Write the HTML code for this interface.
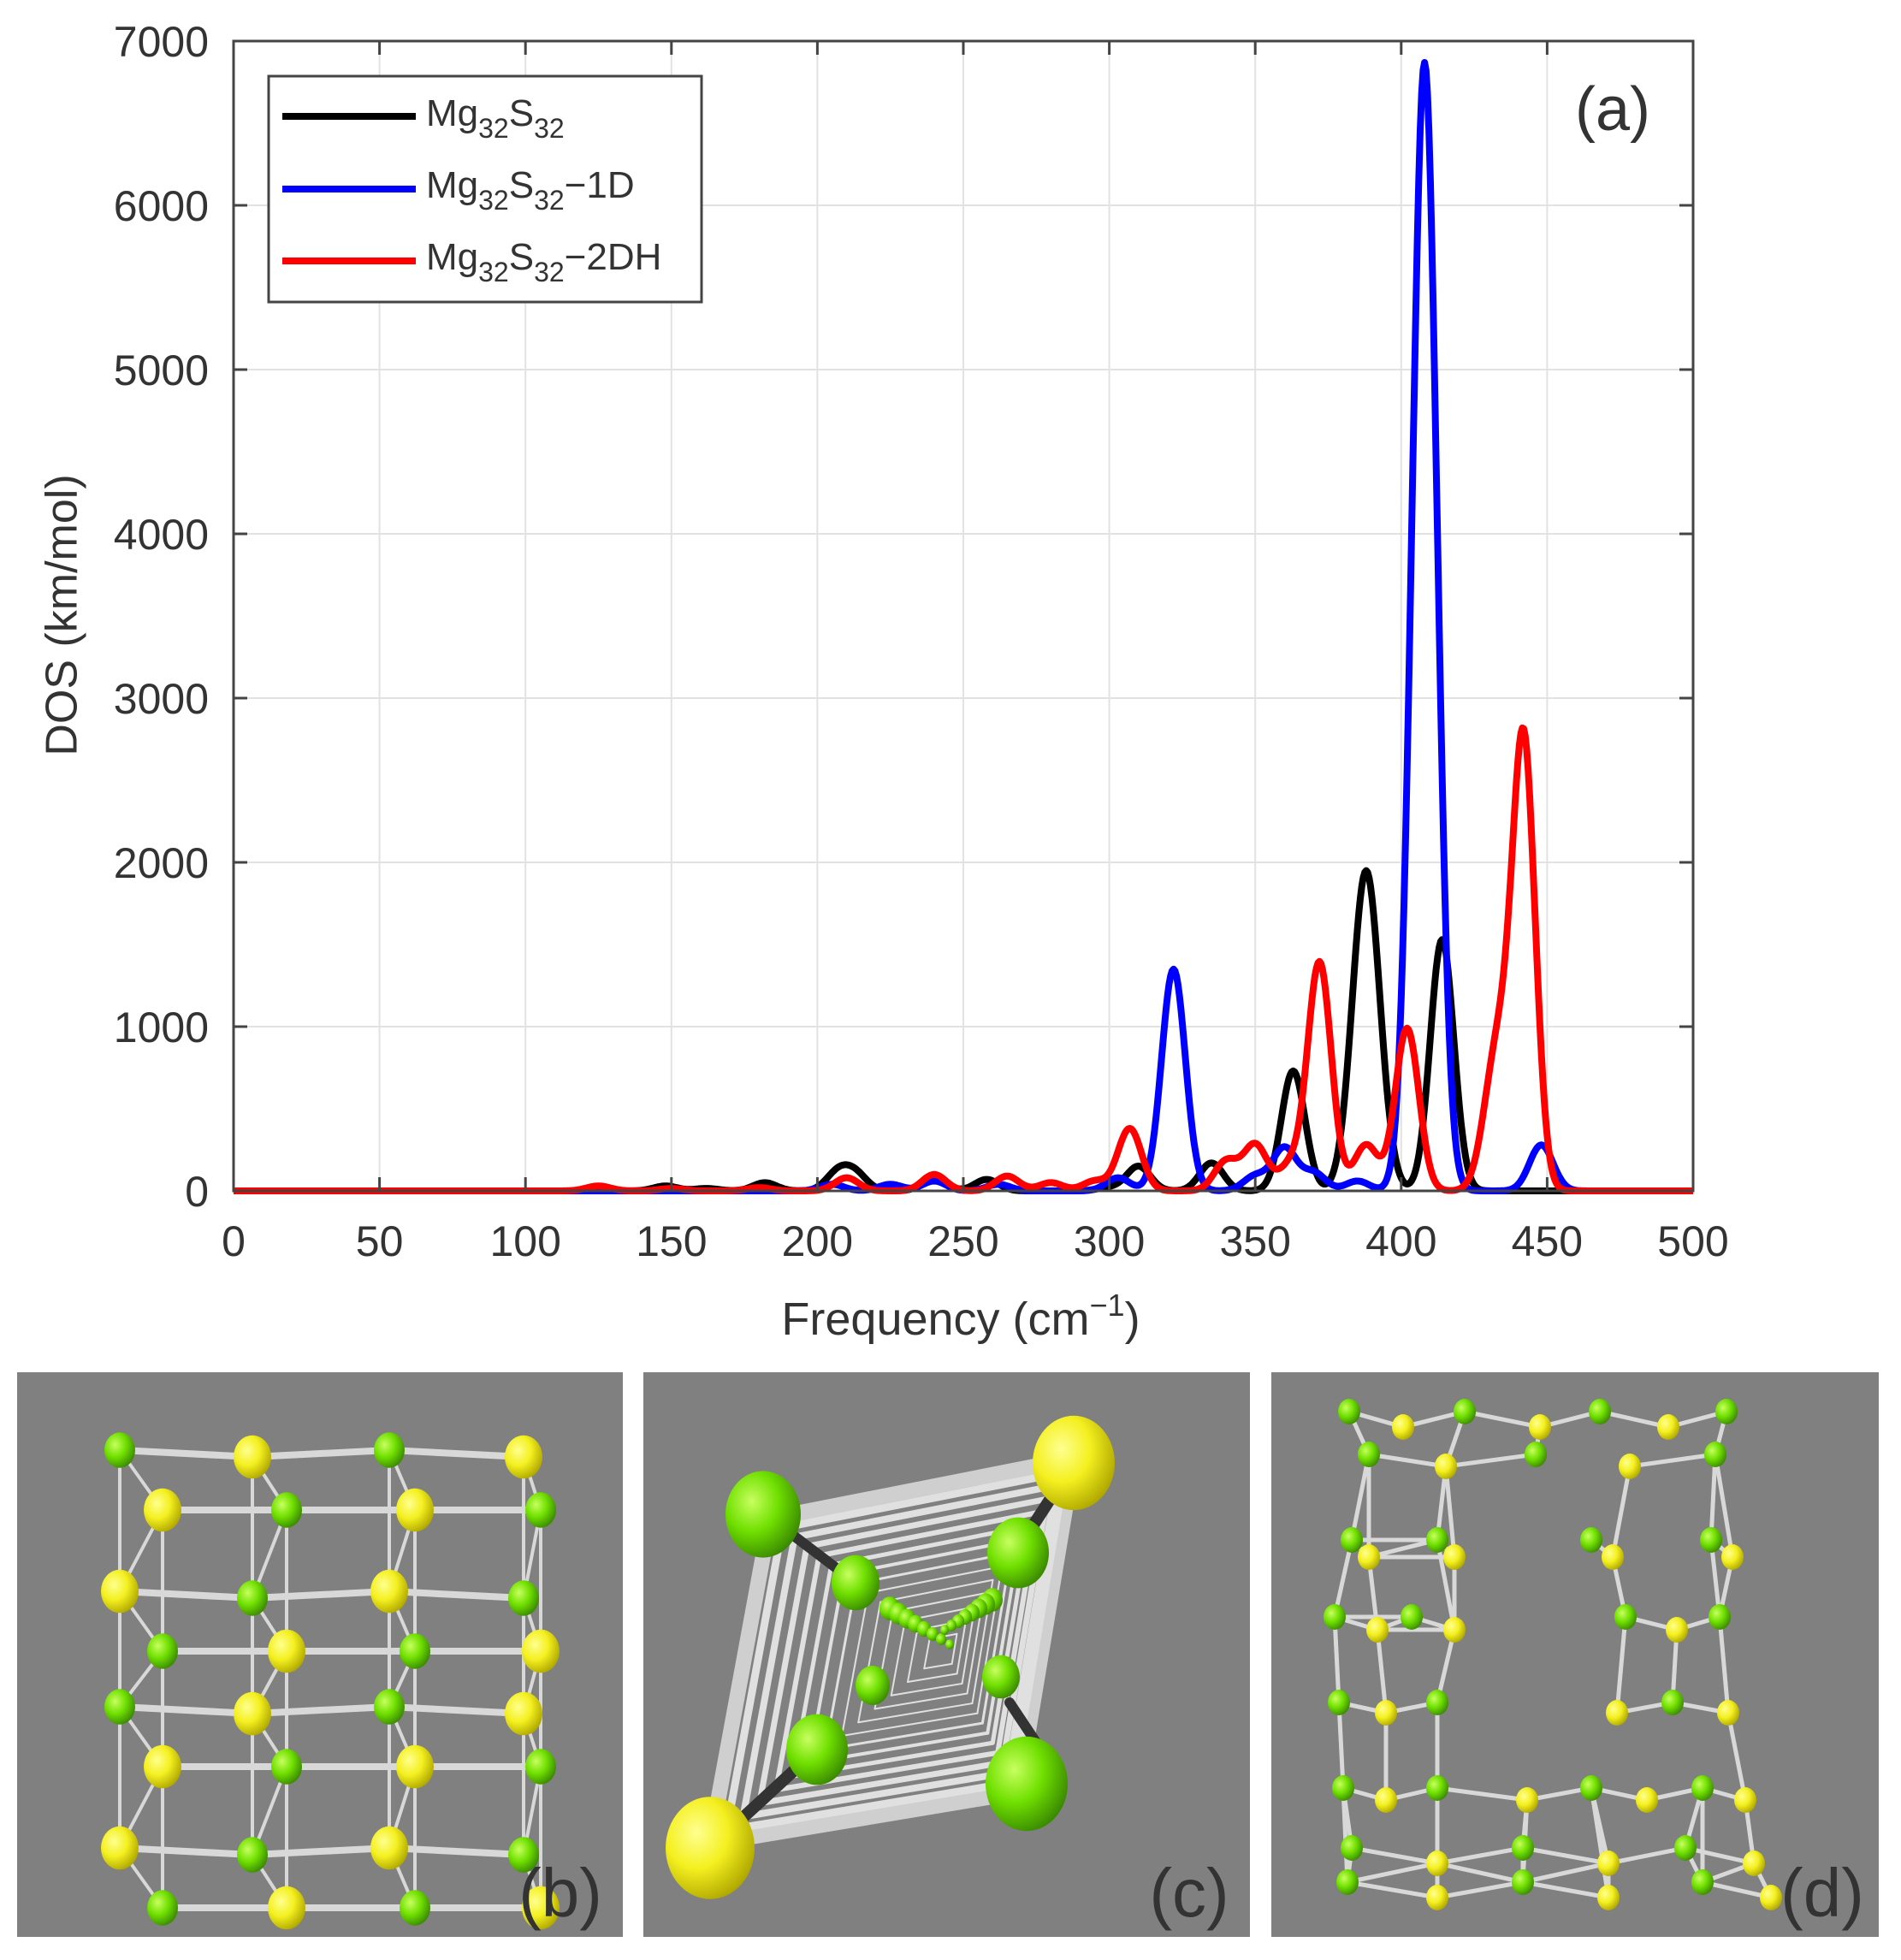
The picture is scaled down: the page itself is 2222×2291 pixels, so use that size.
<!DOCTYPE html>
<html><head><meta charset="utf-8">
<style>
html,body{margin:0;padding:0;background:#fff;}
svg{display:block;}
text{font-family:"Liberation Sans",sans-serif;fill:#333;}
</style></head>
<body>
<svg id="s" width="2222" height="2291" viewBox="0 0 2222 2291" xmlns="http://www.w3.org/2000/svg">
<defs>
<radialGradient id="gy" cx="0.35" cy="0.35" r="0.7"><stop offset="0" stop-color="#ffff90"/><stop offset="0.5" stop-color="#f4f020"/><stop offset="1" stop-color="#b0a800"/></radialGradient>
<radialGradient id="gg" cx="0.35" cy="0.35" r="0.7"><stop offset="0" stop-color="#c8ff60"/><stop offset="0.5" stop-color="#70e000"/><stop offset="1" stop-color="#3a8a00"/></radialGradient>
<clipPath id="cb"><rect x="20" y="1604" width="708" height="660"/></clipPath>
<clipPath id="cc"><rect x="752" y="1604" width="709" height="660"/></clipPath>
<clipPath id="cd"><rect x="1486" y="1604" width="710" height="660"/></clipPath>
</defs>
<g id="grid"></g>
<g id="curves"></g>
<rect x="273" y="48" width="1706" height="1344" fill="none" stroke="#444" stroke-width="3"/>
<g id="ticks"></g>
<text x="76" y="719" font-size="52" text-anchor="middle" transform="rotate(-90 76 719)" dominant-baseline="middle">DOS (km/mol)</text>
<text x="1123" y="1560" font-size="54" text-anchor="middle">Frequency (cm<tspan font-size="36" dy="-22">−1</tspan><tspan dy="22">)</tspan></text>
<text x="1885" y="152" font-size="72" text-anchor="middle" fill="#111">(a)</text>
<rect x="314" y="89" width="506" height="264" fill="#fff" stroke="#444" stroke-width="3"/>
<line x1="330" y1="136" x2="486" y2="136" stroke="#000" stroke-width="8"/>
<line x1="330" y1="221" x2="486" y2="221" stroke="#00f" stroke-width="8"/>
<line x1="330" y1="305" x2="486" y2="305" stroke="#f00" stroke-width="8"/>
<text x="498" y="147" font-size="44">Mg<tspan font-size="32" dy="14">32</tspan><tspan dy="-14">S</tspan><tspan font-size="32" dy="14">32</tspan></text>
<text x="498" y="231" font-size="44">Mg<tspan font-size="32" dy="14">32</tspan><tspan dy="-14">S</tspan><tspan font-size="32" dy="14">32</tspan><tspan dy="-14">−1D</tspan></text>
<text x="498" y="315" font-size="44">Mg<tspan font-size="32" dy="14">32</tspan><tspan dy="-14">S</tspan><tspan font-size="32" dy="14">32</tspan><tspan dy="-14">−2DH</tspan></text>
<rect x="20" y="1604" width="708" height="660" fill="#808080"/>
<rect x="752" y="1604" width="709" height="660" fill="#808080"/>
<rect x="1486" y="1604" width="710" height="660" fill="#808080"/>
<g id="mb" clip-path="url(#cb)"></g>
<g id="mc" clip-path="url(#cc)"></g>
<g id="md" clip-path="url(#cd)"></g>
<text x="655" y="2240" font-size="80" text-anchor="middle" fill="#111">(b)</text>
<text x="1390" y="2240" font-size="80" text-anchor="middle" fill="#111">(c)</text>
<text x="2130" y="2240" font-size="80" text-anchor="middle" fill="#111">(d)</text>
</svg>
<script>
var NS="http://www.w3.org/2000/svg";
function el(p,t,a){var e=document.createElementNS(NS,t);for(var k in a)e.setAttribute(k,a[k]);p.appendChild(e);return e;}
var L=273,R=1979,T=48,B=1392;
function X(f){return L+f*(R-L)/500;}
function Y(v){return B-v*(B-T)/7000;}
var g=document.getElementById('grid'),tk=document.getElementById('ticks');
for(var f=0;f<=500;f+=50){var x=X(f);
 if(f>0&&f<500)el(g,'line',{x1:x,y1:T,x2:x,y2:B,stroke:'#e2e2e2','stroke-width':2});
 el(tk,'line',{x1:x,y1:B,x2:x,y2:B-16,stroke:'#444','stroke-width':3});
 el(tk,'line',{x1:x,y1:T,x2:x,y2:T+16,stroke:'#444','stroke-width':3});
 var t=el(tk,'text',{x:x,y:1468,'font-size':50,'text-anchor':'middle'});t.textContent=f;}
for(var v=0;v<=7000;v+=1000){var y=Y(v);
 if(v>0&&v<7000)el(g,'line',{x1:L,y1:y,x2:R,y2:y,stroke:'#e2e2e2','stroke-width':2});
 el(tk,'line',{x1:L,y1:y,x2:L+16,y2:y,stroke:'#444','stroke-width':3});
 el(tk,'line',{x1:R,y1:y,x2:R-16,y2:y,stroke:'#444','stroke-width':3});
 var t=el(tk,'text',{x:244,y:y+18,'font-size':50,'text-anchor':'end'});t.textContent=v;}
function curve(pk,col){var d='';for(var f=0;f<=500;f+=0.5){var s=0;for(var i=0;i<pk.length;i++){var p=pk[i],w=(p[2]||3.6)*1.12;s+=p[1]*Math.exp(-Math.pow(f-p[0],2)/(2*w*w));}
 d+=(f==0?'M':'L')+X(f).toFixed(1)+' '+Y(s).toFixed(1);}
 el(document.getElementById('curves'),'path',{d:d,fill:'none',stroke:col,'stroke-width':8,'stroke-linejoin':'round'});}
curve([[148,30],[162,15],[182,50],[207,110],[213,100],[240,80],[258,70],[300,20],[310,150],[335,170],[363,730],[388,1950,4.2],[414,1530]],'#000');
curve([[205,40],[225,40],[240,60],[262,40],[303,80],[322,1350],[350,90],[360,260],[370,110],[385,60],[408,6870,3.8],[448,280]],'#00f');
curve([[125,30],[150,15],[180,20],[210,80],[240,100],[265,90],[280,50],[295,60],[307,380],[340,180],[350,280],[362,150],[372,1390],[388,280],[402,990],[433,850,4],[442,2700,3.5]],'#f00');
function bond(p,a,b,w,c){el(p,'line',{x1:a[0],y1:a[1],x2:b[0],y2:b[1],stroke:c||'#d8d8d8','stroke-width':w||5,'stroke-linecap':'round'});}
function atom(p,x,y,r,yel){el(p,'ellipse',{cx:x,cy:y,rx:r,ry:r*1.15,fill:yel?'url(#gy)':'url(#gg)'});}
var mb=document.getElementById('mb');
var pts=[];
for(var r=0;r<4;r++){var yy=[1695,1860,1995,2160][r];for(var c=0;c<4;c++){var xx=[140,295,455,612][c];pts.push([xx,yy+(c%2)*8,(r+c)%2]);pts.push([xx+50-(c*10),yy+70,(r+c+1)%2]);}}
for(var i=0;i<pts.length;i++)for(var j=i+1;j<pts.length;j++){var dx=pts[i][0]-pts[j][0],dy=pts[i][1]-pts[j][1];var d=Math.sqrt(dx*dx+dy*dy);if(d<175&&(Math.abs(dy)<30||Math.abs(dx)<60))bond(mb,pts[i],pts[j],Math.abs(dy)<30?8:4);}
pts.forEach(function(p){atom(mb,p[0],p[1],p[2]?22:18,p[2]);});
var mc=document.getElementById('mc');
for(var k=0;k<14;k++){var s=1-k*0.07,cx=1105,cy=1930;
 var q=[[cx+(-205)*s,cy+(-155)*s],[cx+(150)*s,cy+(-225)*s],[cx+(85)*s,cy+(165)*s],[cx+(-275)*s,cy+(225)*s]];
 for(var m=0;m<4;m++)bond(mc,q[m],q[(m+1)%4],k==0?18:Math.max(2,10-k),k==0?'#cfcfcf':'#e0e0e0');}
bond(mc,[900,1774],[1000,1850],12,'#333');bond(mc,[1255,1710],[1190,1810],14,'#333');
bond(mc,[830,2160],[960,2040],14,'#333');bond(mc,[1240,2080],[1180,1990],12,'#333');
atom(mc,1255,1710,48,1);atom(mc,892,1770,44,0);atom(mc,1190,1815,36,0);atom(mc,1000,1850,28,0);
atom(mc,830,2160,52,1);atom(mc,955,2045,36,0);atom(mc,1200,2085,48,0);atom(mc,1170,1960,22,0);atom(mc,1020,1970,20,0);
for(var k=0;k<8;k++){atom(mc,1040+k*10,1880+k*6,12-k,0);atom(mc,1160-k*8,1870+k*5,12-k,0);}
var md=document.getElementById('md');
var dp=[];
var ring=function(y0,xs,yo){for(var i=0;i<xs.length;i++)dp.push([xs[i],y0+((i%2)?yo:0),i%2]);};
ring(1650,[1577,1640,1712,1800,1870,1950,2018],18);
ring(1700,[1600,1690,1795,1905,2005],14);
ring(1800,[1580,1600,1680,1700,1860,1885,2000,2025],20);
ring(1890,[1560,1610,1650,1700,1900,1960,2010],15);
ring(1990,[1565,1620,1680,1890,1955,2020],12);
ring(2090,[1570,1620,1680,1785,1860,1925,1990,2040],14);
ring(2160,[1580,1680,1780,1880,1970,2050],18);
ring(2200,[1575,1680,1780,1880,1990,2070],18);
for(var i=0;i<dp.length;i++)for(var j=i+1;j<dp.length;j++){var dx=dp[i][0]-dp[j][0],dy=dp[i][1]-dp[j][1];if((Math.abs(dy)<30&&Math.abs(dx)<110)||(Math.abs(dx)<25&&Math.abs(dy)<130))bond(md,dp[i],dp[j],5);}
dp.forEach(function(p){atom(md,p[0],p[1],13,p[2]);});
</script>
</body></html>
